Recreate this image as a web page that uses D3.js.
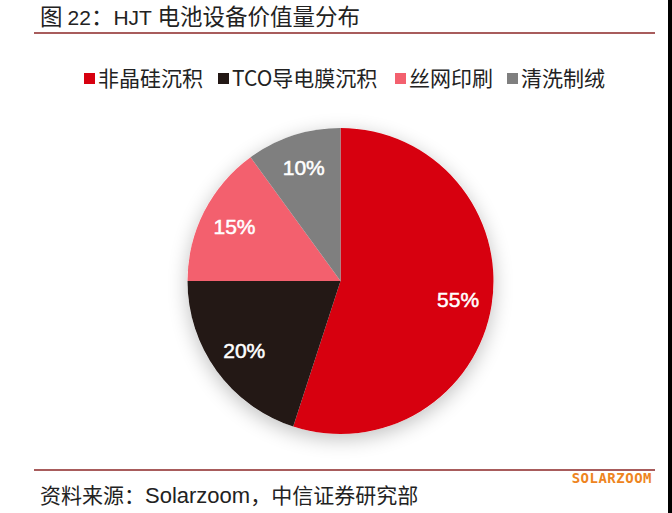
<!DOCTYPE html>
<html>
<head>
<meta charset="utf-8">
<script src="https://cdn.jsdelivr.net/npm/d3@7"></script>
<style>
html,body{margin:0;padding:0;background:#fff;}
svg{display:block;font-family:"Noto Sans CJK SC","Noto Sans",sans-serif;}
</style>
</head>
<body>
<svg id="chart" width="672" height="513"></svg>
<script>
const categories = ["非晶硅沉积", "TCO导电膜沉积", "丝网印刷", "清洗制绒"];
const values = [55, 20, 15, 10];
const colors = ["#d7000f", "#231815", "#f3606e", "#7f7f7f"];
const labels = ["55%", "20%", "15%", "10%"];
const titleParts = [["图 ", "cjk"], ["22", "lat"], ["：", "cjk"], ["HJT ", "lat"], ["电池设备价值量分布", "cjk"]];
const sourceParts = [["资料来源：", "cjk"], ["Solarzoom", "lat"], ["，中信证券研究部", "cjk"]];

const svg = d3.select("#chart");
const W = 672, H = 513;

// right black edge
svg.append("rect").attr("x", 668).attr("y", 0).attr("width", 4).attr("height", H).attr("fill", "#000");

function partsText(parts, x, y, cjkSize, latSize) {
  const t = svg.append("text").attr("x", x).attr("y", y).attr("fill", "#222");
  parts.forEach(([s, k]) => {
    t.append("tspan")
      .attr("font-family", k === "lat" ? "'Liberation Sans', Arial, sans-serif" : "'Noto Sans CJK SC', sans-serif")
      .attr("font-size", k === "lat" ? latSize : cjkSize)
      .text(s);
  });
  return t;
}

// title
partsText(titleParts, 40, 25, 22.5, 21);
svg.append("line").attr("x1", 34).attr("x2", 655).attr("y1", 33).attr("y2", 33)
  .attr("stroke", "#a85c5c").attr("stroke-width", 2);

// legend
const legendX = [84, 218, 395, 507];
const lg = svg.append("g");
categories.forEach((c, i) => {
  lg.append("rect").attr("x", legendX[i]).attr("y", 73).attr("width", 11).attr("height", 11).attr("fill", colors[i]);
  lg.append("text").attr("x", legendX[i] + 14).attr("y", 86).attr("font-size", 21).attr("fill", "#222").text(c);
});

// shadow filter
const defs = svg.append("defs");
const f = defs.append("filter").attr("id", "sh").attr("x", "-30%").attr("y", "-30%").attr("width", "160%").attr("height", "160%");
f.append("feGaussianBlur").attr("in", "SourceAlpha").attr("stdDeviation", 10).attr("result", "b");
f.append("feOffset").attr("dx", 0).attr("dy", 5).attr("result", "o");
f.append("feComponentTransfer").append("feFuncA").attr("type", "linear").attr("slope", 0.25);
const fm = f.append("feMerge");
fm.append("feMergeNode");
fm.append("feMergeNode").attr("in", "SourceGraphic");

const cx = 340.5, cy = 281, R = 153;
const pie = d3.pie().sort(null).value(d => d)(values);
const arc = d3.arc().innerRadius(0).outerRadius(R);
const labelArc = d3.arc().innerRadius(119).outerRadius(119);

const g = svg.append("g").attr("transform", `translate(${cx},${cy})`);
g.append("circle").attr("r", R).attr("fill", "#fff").attr("filter", "url(#sh)");
g.selectAll("path.slice").data(pie).join("path").attr("class", "slice")
  .attr("d", arc).attr("fill", (d, i) => colors[i]);
g.selectAll("text.lbl").data(pie).join("text").attr("class", "lbl")
  .attr("transform", d => `translate(${labelArc.centroid(d)})`)
  .attr("text-anchor", "middle").attr("dominant-baseline", "central")
  .attr("font-family", "'Liberation Sans', Arial, sans-serif")
  .attr("font-size", 21).attr("fill", "#fff")
  .attr("stroke", "#fff").attr("stroke-width", 0.5)
  .text((d, i) => labels[i]);

// bottom
svg.append("line").attr("x1", 34).attr("x2", 655).attr("y1", 470).attr("y2", 470)
  .attr("stroke", "#a85c5c").attr("stroke-width", 2);
svg.append("text").attr("x", 652).attr("y", 483).attr("text-anchor", "end")
  .attr("font-family", "'DejaVu Sans Mono', monospace").attr("font-weight", "bold")
  .attr("font-size", 14).attr("fill", "#ee8421").attr("letter-spacing", 0.5).text("SOLARZOOM");
partsText(sourceParts, 40, 503, 21, 22);
</script>
</body>
</html>
